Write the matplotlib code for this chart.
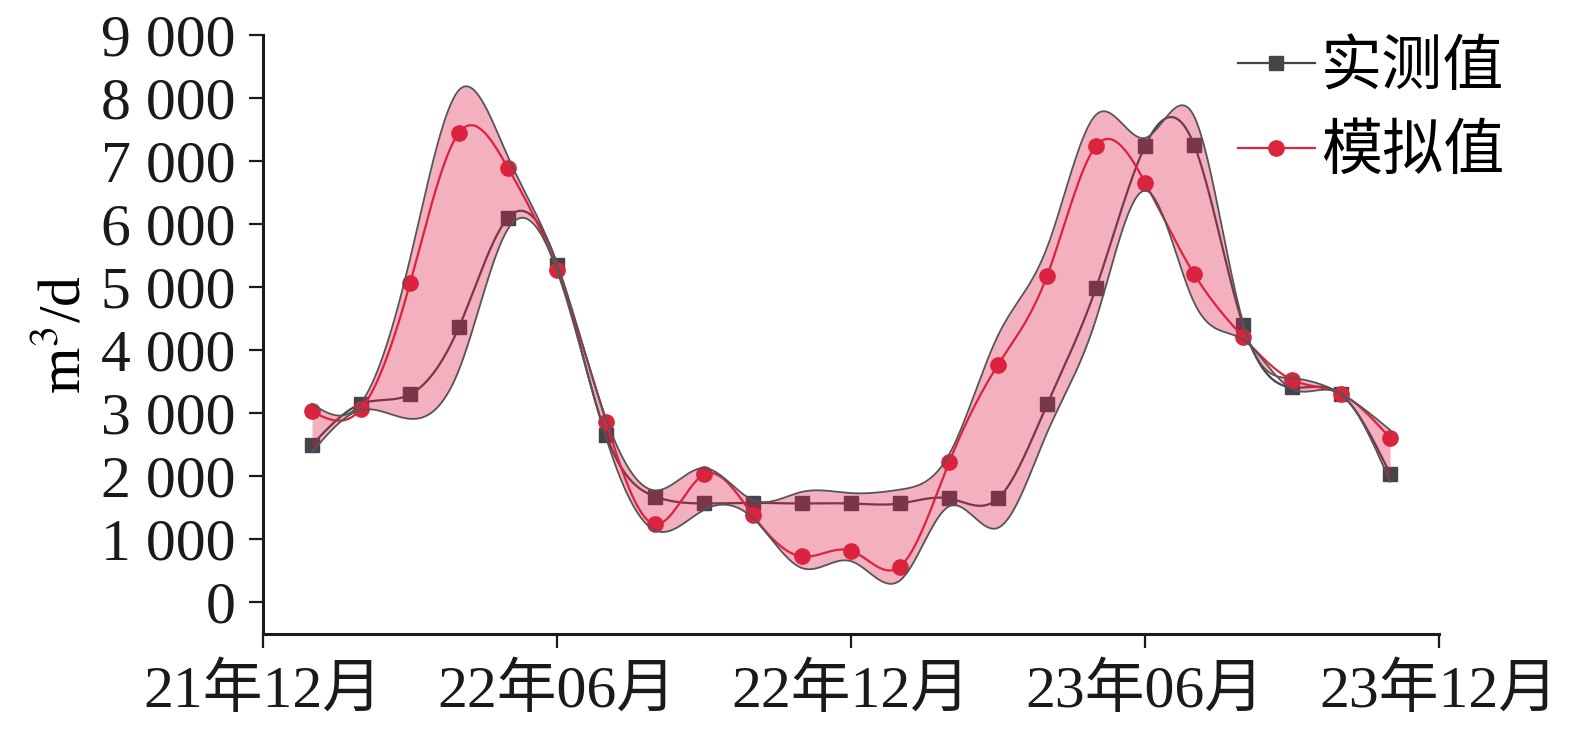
import numpy as np
import matplotlib
matplotlib.use("Agg")
import matplotlib.pyplot as plt

plt.rcParams['font.family'] = ['Liberation Serif', 'Noto Sans CJK SC', 'DejaVu Sans']
plt.rcParams['mathtext.fontset'] = 'stix'

# months counted from Dec 2021 (0) ... Dec 2023 (24)
months = np.arange(1, 24)
measured = [2500, 3150, 3300, 4370, 6100, 5360, 2660, 1680, 1570, 1580, 1570, 1570,
            1570, 1650, 1650, 3140, 4990, 7240, 7260, 4400, 3410, 3300, 2040]
simulated = [3030, 3070, 5060, 7450, 6890, 5280, 2870, 1240, 2030, 1380, 730, 820,
             570, 2220, 3770, 5180, 7240, 6660, 5210, 4210, 3530, 3310, 2610]
tick_pos = [0, 6, 12, 18, 24]
tick_labels = ["21年12月", "22年06月", "22年12月", "23年06月", "23年12月"]
yticks = list(range(0, 9001, 1000))


def natural_spline(x, y, xs):
    # plain natural cubic spline, no scipy here
    x = np.asarray(x, float)
    y = np.asarray(y, float)
    n = len(x)
    h = np.diff(x)
    A = np.zeros((n, n))
    b = np.zeros(n)
    A[0, 0] = A[-1, -1] = 1
    for i in range(1, n - 1):
        A[i, i - 1] = h[i - 1]
        A[i, i] = 2 * (h[i - 1] + h[i])
        A[i, i + 1] = h[i]
        b[i] = 3 * ((y[i + 1] - y[i]) / h[i] - (y[i] - y[i - 1]) / h[i - 1])
    c = np.linalg.solve(A, b)
    idx = np.clip(np.searchsorted(x, xs) - 1, 0, n - 2)
    dx = xs - x[idx]
    bb = (y[idx + 1] - y[idx]) / h[idx] - h[idx] * (2 * c[idx] + c[idx + 1]) / 3
    dd = (c[idx + 1] - c[idx]) / (3 * h[idx])
    return y[idx] + bb * dx + c[idx] * dx ** 2 + dd * dx ** 3


meas = np.array(measured, float)
sim = np.array(simulated, float)
gap = np.abs(meas - sim)
upper = np.maximum(meas, sim) + 0.22 * gap
lower = np.minimum(meas, sim) - 0.22 * gap

xs = np.linspace(months[0], months[-1], 800)
meas_s = natural_spline(months, meas, xs)
sim_s = natural_spline(months, sim, xs)
up_s = natural_spline(months, upper, xs)
lo_s = natural_spline(months, lower, xs)

fig = plt.figure(figsize=(15.75, 7.43), dpi=100)
ax = fig.add_axes([0.167, 0.1467, 0.7467, 0.8062])

dark = '#45444c'
red = '#d9263b'

ax.plot(xs, meas_s, color=dark, lw=1.6, zorder=2)
ax.plot(months, meas, 's', color=dark, ms=10, zorder=2)
ax.plot(xs, sim_s, color=red, lw=1.6, zorder=2)
ax.plot(months, sim, 'o', color=red, ms=11, zorder=2)

ax.fill_between(xs, lo_s, up_s, color='#df1d48', alpha=0.35, lw=0, zorder=3)
ax.plot(xs, up_s, color='#555555', lw=1.3, zorder=4)
ax.plot(xs, lo_s, color='#555555', lw=1.3, zorder=4)

# legend handles
ax.plot([], [], '-s', color=dark, lw=1.6, ms=10, label='实测值')
ax.plot([], [], '-o', color=red, lw=1.6, ms=11, label='模拟值')
ax.legend(loc='upper right', bbox_to_anchor=(1.102, 1.09), frameon=False,
          handlelength=1.25, handletextpad=0.1, labelspacing=0.36,
          prop={'family': ['Noto Sans CJK SC'], 'size': 44})

ax.set_xlim(0, 24)
ax.set_ylim(-500, 9000)
ax.set_xticks(tick_pos)
ax.set_xticklabels(tick_labels, fontsize=43)
ax.set_yticks(yticks)
ax.set_yticklabels([f"{v:,}".replace(",", " ") for v in yticks], fontsize=43)
ax.set_ylabel(r'm$^3$/d', fontsize=43, labelpad=6)

for s in ['top', 'right']:
    ax.spines[s].set_visible(False)
for s in ['left', 'bottom']:
    ax.spines[s].set_linewidth(2.2)
    ax.spines[s].set_color('#1a1a1a')
ax.tick_params(direction='out', length=10, width=1.6, colors='#1a1a1a', pad=10)
ax.tick_params(axis='x', pad=12)

fig.savefig('out.png', dpi=100)
